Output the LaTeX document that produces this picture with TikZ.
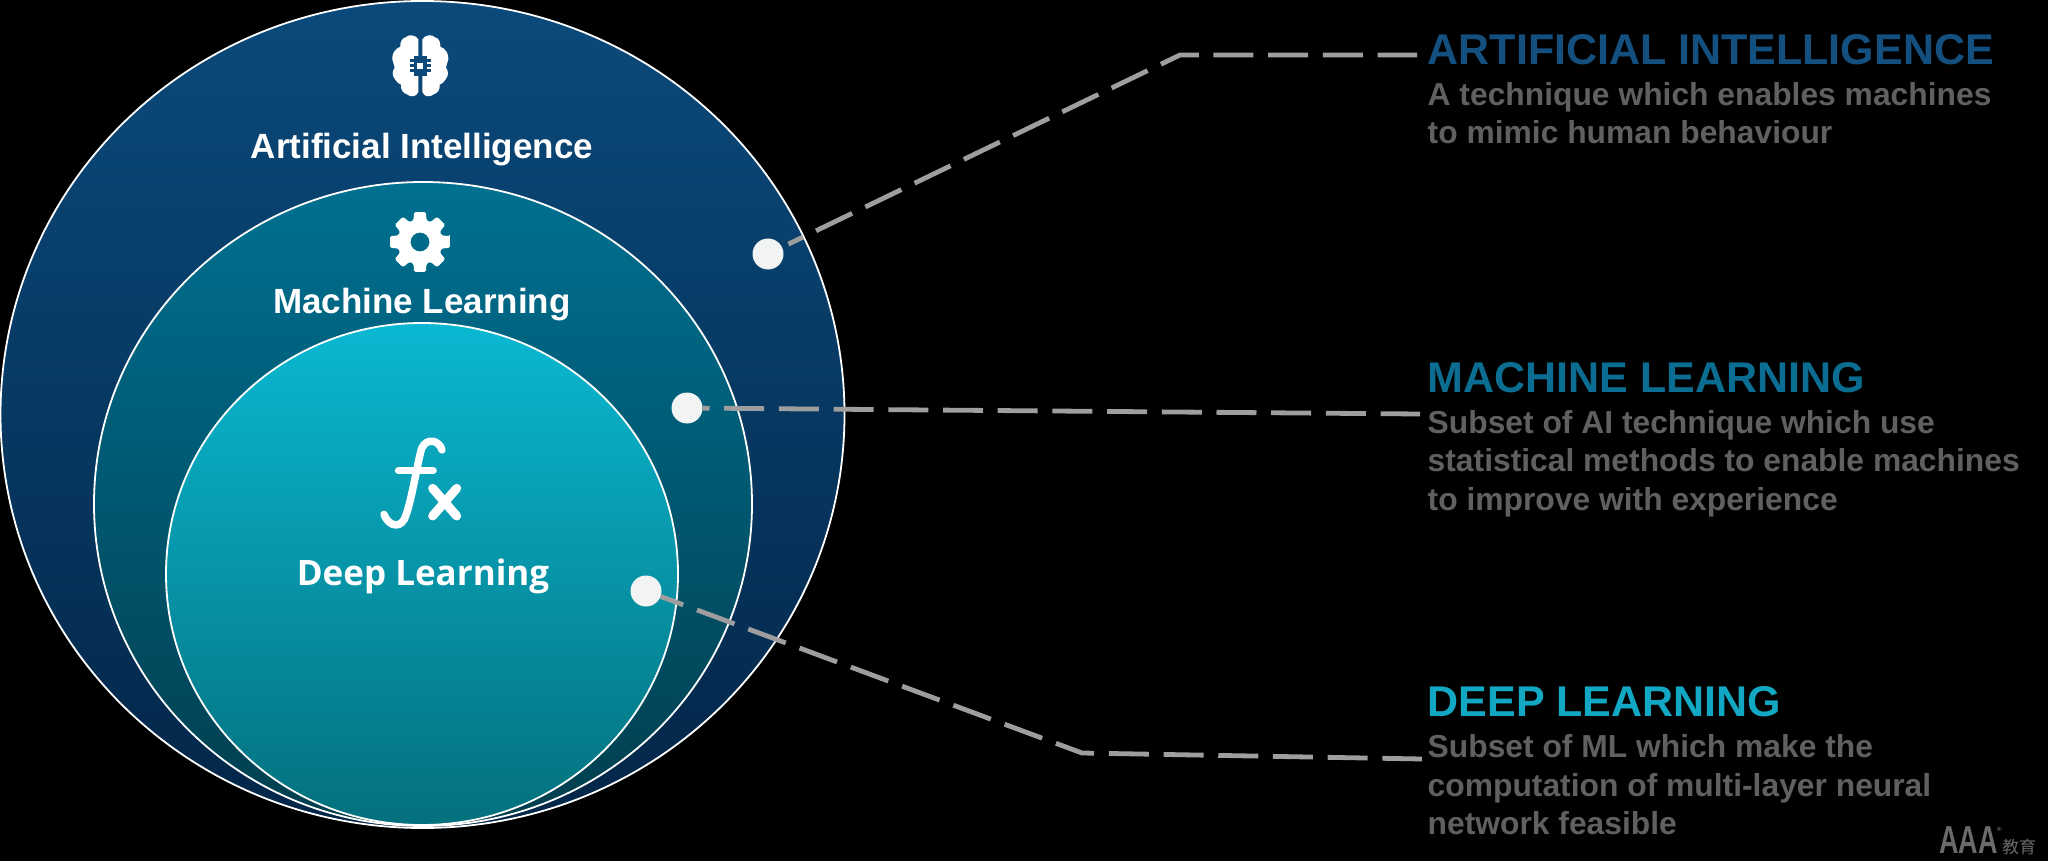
\documentclass[tikz,border=0pt]{standalone}
\usepackage{fontspec}
\usetikzlibrary{shapes.geometric}
\setmainfont{Liberation Sans}
\newfontfamily\labelfont{Open Sans}
\newfontfamily\cjkfont{Noto Sans CJK SC}
\definecolor{aihead}{HTML}{14507F}
\definecolor{mlhead}{HTML}{0B6D91}
\definecolor{dlhead}{HTML}{12A8C4}
\definecolor{bodygray}{HTML}{606060}
\definecolor{wmgray}{HTML}{6A6A6A}
\definecolor{dashgray}{HTML}{9E9E9E}
\definecolor{iconblue}{HTML}{0B4A7B}
\definecolor{aibot}{HTML}{032648}
\definecolor{mltop}{HTML}{007091}
\definecolor{mlbot}{HTML}{013E4E}
\definecolor{dltop}{HTML}{0AB8D2}
\definecolor{dlbot}{HTML}{04707D}
\definecolor{dotfill}{HTML}{F2F4F4}
\tikzset{
  ring/.style={ellipse,draw=white,line width=1.8pt,inner sep=0pt},
  dotnode/.style={circle,fill=dotfill,minimum size=31pt,inner sep=0pt},
  leader/.style={draw=dashgray,line width=4.8pt,dash pattern=on 40pt off 14.7pt},
  inlabel/.style={font=\bfseries\fontsize{35}{40}\selectfont,text=white,anchor=base,inner sep=0pt},
  headtext/.style={font=\bfseries\fontsize{43}{48}\selectfont,anchor=base west,inner sep=0pt},
  bodytext/.style={font=\bfseries\fontsize{31.8}{38}\selectfont,text=bodygray,anchor=base west,inner sep=0pt},
  iconstroke/.style={draw=white,line cap=round},
}
\begin{document}
\begin{tikzpicture}[x=1pt,y=-1pt]
\useasboundingbox (0,0) rectangle (2048,861);
\fill[black] (0,0) rectangle (2048,861);
% circles
\node[ring,minimum width=844pt,minimum height=827pt,top color=iconblue,bottom color=aibot] (ai) at (422.5,414.5) {};
\node[ring,minimum width=658pt,minimum height=644pt,top color=mltop,bottom color=mlbot] (ml) at (423,504) {};
\node[ring,minimum width=512pt,minimum height=502pt,top color=dltop,bottom color=dlbot] (dl) at (422,574) {};
% leaders
\coordinate (aibend) at (1180,55);
\coordinate (aiend) at (1417,55);
\coordinate (mlend) at (1420,414);
\coordinate (dlbend) at (1082,753);
\coordinate (dlend) at (1422,759);
\node[dotnode] (aidot) at (768,254) {};
\node[dotnode] (mldot) at (687,408) {};
\node[dotnode] (dldot) at (646,591) {};
\draw[leader,dash phase=24pt,shorten <=7pt] (aidot) -- (aibend) -- (aiend);
\draw[leader,dash phase=33.2pt] (mldot) -- (mlend);
\draw[leader,dash phase=16pt] (dldot) -- (dlbend) -- (dlend);
% labels
\node[inlabel] (ailabel) at (422,158.5) {Artificial Intelligence};
\node[inlabel] (mllabel) at (422,313) {Machine Learning};
\node[inlabel,font=\labelfont\bfseries\fontsize{35}{40}\selectfont] (dllabel) at (423,585) {Deep Learning};
% brain icon
\begin{scope}[shift={(340,0)},x=0.3333pt,y=-0.3333pt]
\fill[white] (247,118) .. controls (255,104) and (277,102) .. (285,112)
  .. controls (297,114) and (302,128) .. (301,140) .. controls (317,146) and (327,162) .. (325,178)
  .. controls (323,188) and (319,196) .. (318,203) .. controls (325,212) and (327,226) .. (317,238)
  .. controls (313,246) and (305,252) .. (299,254) .. controls (301,268) and (293,280) .. (281,283)
  .. controls (271,292) and (253,292) .. (247,276) -- cycle;
\fill[white] (235,118) .. controls (227,104) and (205,102) .. (197,112)
  .. controls (185,114) and (180,128) .. (181,140) .. controls (165,146) and (155,162) .. (157,178)
  .. controls (159,188) and (163,196) .. (164,203) .. controls (157,212) and (155,226) .. (165,238)
  .. controls (169,246) and (177,252) .. (183,254) .. controls (181,268) and (189,280) .. (201,283)
  .. controls (211,292) and (229,292) .. (235,276) -- cycle;
\foreach \yy in {178,192,206}{\fill[iconblue] (210,\yy) rectangle (272,\yy+9);}
\fill[iconblue] (222,168) rectangle (260,228);
\fill[white] (232,188) rectangle (250,207);
\end{scope}
% gear icon
\fill[white,even odd rule,rounded corners=1.5pt] ([shift={(420,242)}]-11:30.5)
  \foreach \a in {0,45,...,315}{
    -- ([shift={(420,242)}]\a-11:30.5) -- ([shift={(420,242)}]\a+11:30.5)
    -- ([shift={(420,242)}]\a+17:22.5) -- ([shift={(420,242)}]\a+28:22.5)
  } -- cycle (429.5,242) arc[start angle=0,end angle=360,radius=9.5];
% fx icon
\begin{scope}[shift={(340,420)},x=0.3333pt,y=-0.3333pt]
\draw[iconstroke,line width=7.5pt]
  (306,90) .. controls (298,62) and (262,50) .. (245,85)
  .. controls (232,130) and (215,240) .. (198,285)
  .. controls (188,325) and (148,325) .. (132,283);
\draw[iconstroke,line width=7pt] (175,152) -- (280,152);
\draw[iconstroke,line width=9pt] (278,205) -- (350,288);
\draw[iconstroke,line width=9pt] (350,205) -- (278,288);
\end{scope}
% right texts
\node[headtext,text=aihead] (aih) at (1427.5,65) {ARTIFICIAL INTELLIGENCE};
\node[bodytext] (aib1) at (1427.5,105.7) {A technique which enables machines};
\node[bodytext] (aib2) at (1427.5,143.5) {to mimic human behaviour};
\node[headtext,text=mlhead] (mlh) at (1427.5,392.7) {MACHINE LEARNING};
\node[bodytext] (mlb1) at (1427.5,433.3) {Subset of AI technique which use};
\node[bodytext] (mlb2) at (1427.5,471.7) {statistical methods to enable machines};
\node[bodytext] (mlb3) at (1427.5,510) {to improve with experience};
\node[headtext,text=dlhead] (dlh) at (1427.5,716.7) {DEEP LEARNING};
\node[bodytext] (dlb1) at (1427.5,757.7) {Subset of ML which make the};
\node[bodytext] (dlb2) at (1427.5,796) {computation of multi-layer neural};
\node[bodytext] (dlb3) at (1427.5,834) {network feasible};
% watermark
\node[font=\bfseries\fontsize{39}{39}\selectfont,text=wmgray,anchor=base west,inner sep=0pt] (wm) at (1939,853) {\scalebox{0.69}[1]{AAA}};
\node[font=\bfseries\fontsize{6}{6}\selectfont,text=wmgray,anchor=base west,inner sep=0pt] (wmr) at (1997,831) {®};
\node[font=\cjkfont\fontsize{17}{17}\selectfont,text=wmgray,anchor=base west,inner sep=0pt] (wmcn) at (2002,853) {教育};
\end{tikzpicture}
\end{document}
